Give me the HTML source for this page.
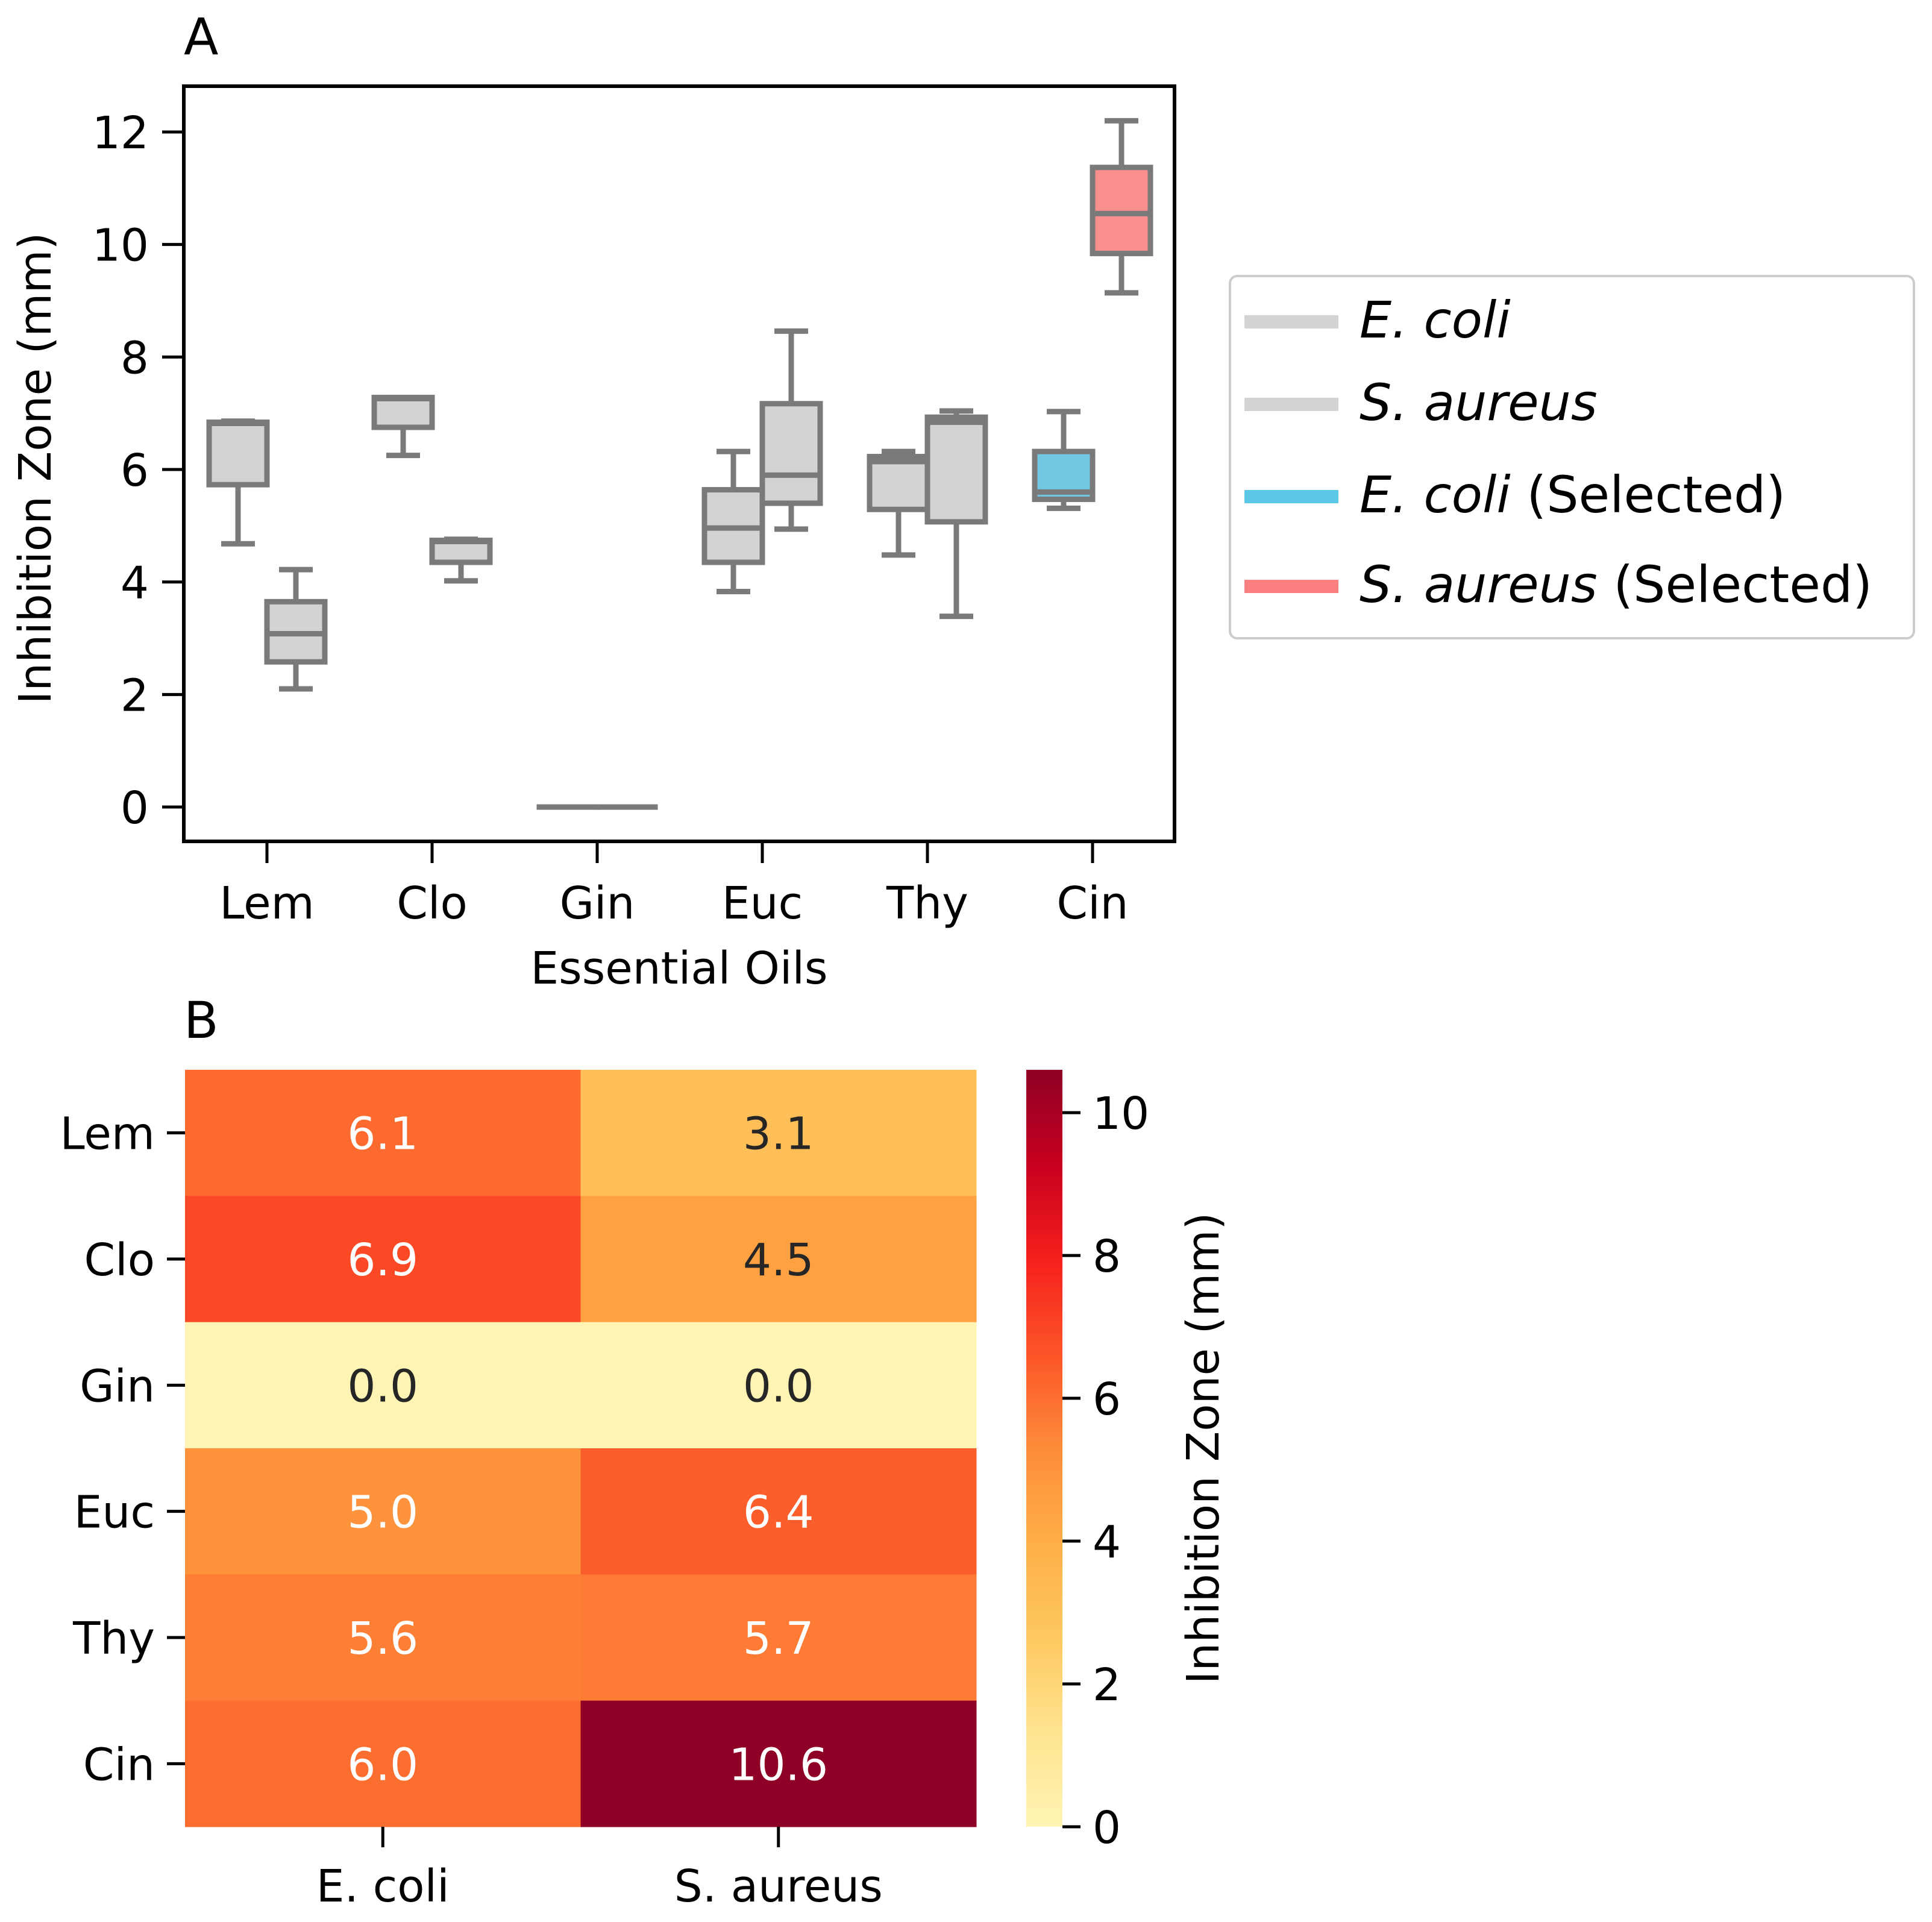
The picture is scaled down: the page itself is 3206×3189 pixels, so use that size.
<!DOCTYPE html>
<html><head><meta charset="utf-8">
<style>
html,body{margin:0;padding:0;background:#fff;}
svg{display:block;font-family:"DejaVu Sans","Liberation Sans",sans-serif;}
</style></head>
<body>
<svg id="fig" width="3206" height="3189" viewBox="0 0 3206 3189" xmlns="http://www.w3.org/2000/svg">
<text x="305" y="90" font-size="84">A</text>
<g id="boxplot"></g>
<text x="1127" y="1632" font-size="74" text-anchor="middle">Essential Oils</text>
<text transform="translate(84,777) rotate(-90)" font-size="74" text-anchor="middle">Inhibition Zone (mm)</text>
<g>
<rect x="2041" y="458" width="1135" height="601" rx="12" fill="#fff" stroke="#cccccc" stroke-width="4"/>
<line x1="2065" x2="2221" y1="534" y2="534" stroke="#d3d3d3" stroke-width="22"/>
<text x="2256" y="560" font-size="84" font-style="italic">E. coli</text>
<line x1="2065" x2="2221" y1="671" y2="671" stroke="#d3d3d3" stroke-width="22"/>
<text x="2256" y="697" font-size="84" font-style="italic">S. aureus</text>
<line x1="2065" x2="2221" y1="824" y2="824" stroke="#5bc8e6" stroke-width="22"/>
<text x="2256" y="850" font-size="84"><tspan font-style="italic">E. coli</tspan> (Selected)</text>
<line x1="2065" x2="2221" y1="973" y2="973" stroke="#fc8080" stroke-width="22"/>
<text x="2256" y="999" font-size="84"><tspan font-style="italic">S. aureus</tspan> (Selected)</text>
</g>
<text x="305" y="1722" font-size="84">B</text>
<g id="heatmap"></g>
<text transform="translate(2022,2403) rotate(-90)" font-size="74" text-anchor="middle">Inhibition Zone (mm)</text>
</svg>
<script>
const oils = ["Lem","Clo","Gin","Euc","Thy","Cin"];
const yTicks = [0,2,4,6,8,10,12];
// [low whisker, Q1, median, Q3, high whisker]
const ecoliBox = [[4.68,5.73,6.82,6.84,6.86],[6.25,6.75,7.26,7.28,7.28],[0,0,0,0,0],[3.83,4.35,4.96,5.64,6.32],[4.48,5.29,6.14,6.23,6.32],[5.31,5.47,5.6,6.32,7.03]];
const saureusBox = [[2.1,2.58,3.08,3.65,4.22],[4.02,4.35,4.72,4.74,4.76],[0,0,0,0,0],[4.94,5.4,5.9,7.17,8.46],[3.39,5.07,6.84,6.93,7.04],[9.14,9.84,10.55,11.37,12.2]];
const strains = ["E. coli","S. aureus"];
const ecoliMean = [6.1,6.9,0.0,5.0,5.6,6.0];
const saureusMean = [3.1,4.5,0.0,6.4,5.7,10.6];
const cbTicks = [0,2,4,6,8,10];

const NS="http://www.w3.org/2000/svg";
function mk(tag, attrs, parent){const e=document.createElementNS(NS,tag);for(const k in attrs)e.setAttribute(k,attrs[k]);parent.appendChild(e);return e;}

// Panel A
const bp=document.getElementById('boxplot');
const AX={l:305,r:1949,t:143,b:1396};
const yA=v=>1339-(1339-219)*v/12;
const xA=i=>443+i*274;
const frame=mk('rect',{x:AX.l,y:AX.t,width:AX.r-AX.l,height:AX.b-AX.t,fill:'none',stroke:'#000','stroke-width':6},bp);


yTicks.forEach(v=>{
  const t=mk('line',{x1:AX.l-36,x2:AX.l,y1:yA(v),y2:yA(v),stroke:'#000','stroke-width':5},bp);
  
  
  const l=mk('text',{x:AX.l-58,y:yA(v)+27,'font-size':74,'text-anchor':'end'},bp);
  l.textContent=v;
  
  
});
oils.forEach((o,i)=>{
  const t=mk('line',{x1:xA(i),x2:xA(i),y1:AX.b,y2:AX.b+36,stroke:'#000','stroke-width':5},bp);
  
  
  const l=mk('text',{x:xA(i),y:1524,'font-size':74,'text-anchor':'middle'},bp);
  l.textContent=o;
  
  
});
function drawBox(s,cx,fill,name){
  const g=mk('g',{},bp);
  
  
  const st={stroke:'#7a7a7a','stroke-width':9,fill:'none'};
  const w=96,cw=56;
  mk('line',Object.assign({x1:cx,x2:cx,y1:yA(s[0]),y2:yA(s[1])},st),g);
  mk('line',Object.assign({x1:cx,x2:cx,y1:yA(s[3]),y2:yA(s[4])},st),g);
  mk('line',Object.assign({x1:cx-cw/2,x2:cx+cw/2,y1:yA(s[0]),y2:yA(s[0])},st),g);
  mk('line',Object.assign({x1:cx-cw/2,x2:cx+cw/2,y1:yA(s[4]),y2:yA(s[4])},st),g);
  mk('rect',{x:cx-w/2,y:yA(s[3]),width:w,height:Math.max(0.1,yA(s[1])-yA(s[3])),fill:fill,stroke:'#7a7a7a','stroke-width':9},g);
  mk('line',Object.assign({x1:cx-w/2,x2:cx+w/2,y1:yA(s[2]),y2:yA(s[2])},st),g);
}
oils.forEach((o,i)=>{
  drawBox(ecoliBox[i],xA(i)-48,i===5?'#72c8e0':'#d3d3d3','box-ecoli-'+o.toLowerCase());
  drawBox(saureusBox[i],xA(i)+48,i===5?'#f98e8e':'#d3d3d3','box-saureus-'+o.toLowerCase());
});

// Panel B
const hm=document.getElementById('heatmap');
const H={l:307,r:1620,t:1775,b:3031};
const vmax=10.6;
const stops=['#fff4b4','#ffe490','#fec860','#feae48','#fd8c3a','#fc5428','#f5201c','#c8001f','#8e0025'];
function hex(c){return [1,3,5].map(k=>parseInt(c.substr(k,2),16));}
function cmap(v){let t=Math.max(0,Math.min(1,v/vmax))*8;const i=Math.min(7,Math.floor(t));const f=t-i;const a=hex(stops[i]),b=hex(stops[i+1]);const c=a.map((x,k)=>Math.round(x+(b[k]-x)*f));return {css:'rgb('+c.join(',')+')',lum:(0.299*c[0]+0.587*c[1]+0.114*c[2])/255};}
const cw=(H.r-H.l)/strains.length, ch=(H.b-H.t)/oils.length;
const cols=[ecoliMean,saureusMean];
oils.forEach((o,r)=>{
  cols.forEach((arr,c)=>{
    const col=cmap(arr[r]);
    const rc=mk('rect',{x:H.l+c*cw,y:H.t+r*ch,width:cw+0.5,height:ch+0.5,fill:col.css},hm);
    
    
    const tx=mk('text',{x:H.l+c*cw+cw/2,y:H.t+r*ch+ch/2+27,'font-size':74,'text-anchor':'middle',fill:arr[r]<4.8?'#262626':'#fff'},hm);
    tx.textContent=arr[r].toFixed(1);
    
    
  });
  const yc=H.t+r*ch+ch/2;
  const t=mk('line',{x1:H.l-30,x2:H.l,y1:yc,y2:yc,stroke:'#000','stroke-width':5},hm);
  
  
  const l=mk('text',{x:H.l-50,y:yc+27,'font-size':74,'text-anchor':'end'},hm);
  l.textContent=o;
  
  
});
strains.forEach((s,c)=>{
  const xc=H.l+c*cw+cw/2;
  const t=mk('line',{x1:xc,x2:xc,y1:H.b,y2:H.b+34,stroke:'#000','stroke-width':5},hm);
  
  
  const l=mk('text',{x:xc,y:3155,'font-size':74,'text-anchor':'middle'},hm);
  l.textContent=s;
  
  
});
// colorbar
const CB={l:1703,r:1763,t:1775,b:3031};
const grad=mk('linearGradient',{id:'cbg',x1:0,y1:1,x2:0,y2:0},mk('defs',{},hm));
stops.forEach((s,i)=>mk('stop',{offset:(i/8),'stop-color':s},grad));
const cbr=mk('rect',{x:CB.l,y:CB.t,width:CB.r-CB.l,height:CB.b-CB.t,fill:'url(#cbg)'},hm);


const yC=v=>CB.b-(CB.b-CB.t)*v/vmax;
cbTicks.forEach(v=>{
  const t=mk('line',{x1:CB.r,x2:CB.r+30,y1:yC(v),y2:yC(v),stroke:'#000','stroke-width':5},hm);
  
  
  const l=mk('text',{x:CB.r+50,y:yC(v)+27,'font-size':74},hm);
  l.textContent=v;
  
  
});
</script>
</body></html>
